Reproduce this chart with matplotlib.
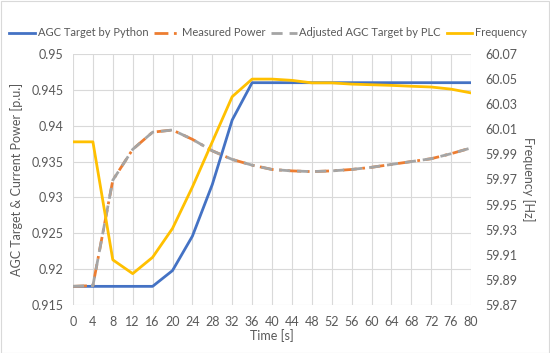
import matplotlib
matplotlib.use("Agg")
import matplotlib.pyplot as plt
from matplotlib.patches import Rectangle

time = [0, 4, 8, 12, 16, 20, 24, 28, 32, 36, 40, 44, 48, 52, 56, 60, 64, 68, 72, 76, 80]
agc_target = [0.9176, 0.9176, 0.9176, 0.9176, 0.9176, 0.9198, 0.9246, 0.9318, 0.9408, 0.9460,
              0.9460, 0.9460, 0.9460, 0.9460, 0.9460, 0.9460, 0.9460, 0.9460, 0.9460, 0.9460, 0.9460]
measured = [0.9176, 0.9177, 0.9324, 0.9367, 0.9391, 0.9394, 0.9381, 0.9365, 0.9353, 0.9345,
            0.9339, 0.9337, 0.9336, 0.9337, 0.9339, 0.9342, 0.9346, 0.9350, 0.9354, 0.9361, 0.9369]
adjusted = [0.9176, 0.9177, 0.9324, 0.9367, 0.9391, 0.9394, 0.9381, 0.9365, 0.9353, 0.9345,
            0.9339, 0.9337, 0.9336, 0.9337, 0.9339, 0.9342, 0.9346, 0.9350, 0.9354, 0.9361, 0.9369]
frequency = [60.000, 60.000, 59.906, 59.895, 59.908, 59.931, 59.964, 60.000, 60.036, 60.050,
             60.050, 60.049, 60.047, 60.047, 60.046, 60.0455, 60.045, 60.0443, 60.0437, 60.042, 60.039]

left_ticks = [0.915, 0.92, 0.925, 0.93, 0.935, 0.94, 0.945, 0.95]
left_labels = ["0.915", "0.92", "0.925", "0.93", "0.935", "0.94", "0.945", "0.95"]
right_ticks = [59.87, 59.89, 59.91, 59.93, 59.95, 59.97, 59.99, 60.01, 60.03, 60.05, 60.07]

plt.rcParams['font.family'] = ['Lato', 'DejaVu Sans']
txt = '#595959'
fs = 9
W, H = 550, 353
fig = plt.figure(figsize=(W / 100, H / 100), dpi=100)
ax = fig.add_axes([73 / W, 1 - 305 / H, (471 - 73) / W, (305 - 54) / H])
fig.patches.append(Rectangle((0.5 / W, 0.5 / H), 1 - 1.5 / W, 1 - 1.5 / H, transform=fig.transFigure,
                             fill=False, edgecolor='#d9d9d9', linewidth=0.8))

l1, = ax.plot(time, agc_target, color='#4472C4', lw=2.0, label='AGC Target by Python', zorder=3)
l2, = ax.plot(time, measured, color='#ED7D31', lw=2.0, dashes=(5, 2, 1, 2), label='Measured Power', zorder=4)
l3, = ax.plot(time, adjusted, color='#A5A5A5', lw=2.0, dashes=(4, 2.5), label='Adjusted AGC Target by PLC', zorder=5)
ax2 = ax.twinx()
l4, = ax2.plot(time, frequency, color='#FFC000', lw=2.0, label='Frequency', zorder=6)

ax.set_xlim(0, 80)
ax.set_ylim(0.915, 0.95)
ax2.set_ylim(59.87, 60.07)
ax.set_xticks(time)
ax.set_yticks(left_ticks)
ax.set_yticklabels(left_labels)
ax2.set_yticks(right_ticks)
ax2.set_yticklabels([f"{v:.2f}" for v in right_ticks])
ax.grid(True, color='#d9d9d9', lw=0.8)
ax.set_axisbelow(True)
for a in (ax, ax2):
    for s in a.spines.values():
        s.set_visible(False)
    a.tick_params(length=0, labelsize=fs, labelcolor=txt)
ax.tick_params(axis='x', pad=8)
ax.tick_params(axis='y', pad=7)
ax2.tick_params(axis='y', pad=10)

ax.set_xlabel('Time [s]', fontsize=fs, color=txt, labelpad=1)
ax.set_ylabel('AGC Target & Current Power [p.u.]', fontsize=fs, color=txt, labelpad=6)
ax2.set_ylabel('Frequency [Hz]', fontsize=fs, color=txt, rotation=270, labelpad=13)

leg = fig.legend(handles=[l1, l2, l3, l4], loc='center', bbox_to_anchor=(268 / W, 1 - 33 / H), ncol=4,
                 frameon=False, fontsize=8, handlelength=2.3, handletextpad=0.25, columnspacing=0.5,
                 borderaxespad=0, borderpad=0)
for t in leg.get_texts():
    t.set_color(txt)

fig.savefig('out.png', dpi=100)
